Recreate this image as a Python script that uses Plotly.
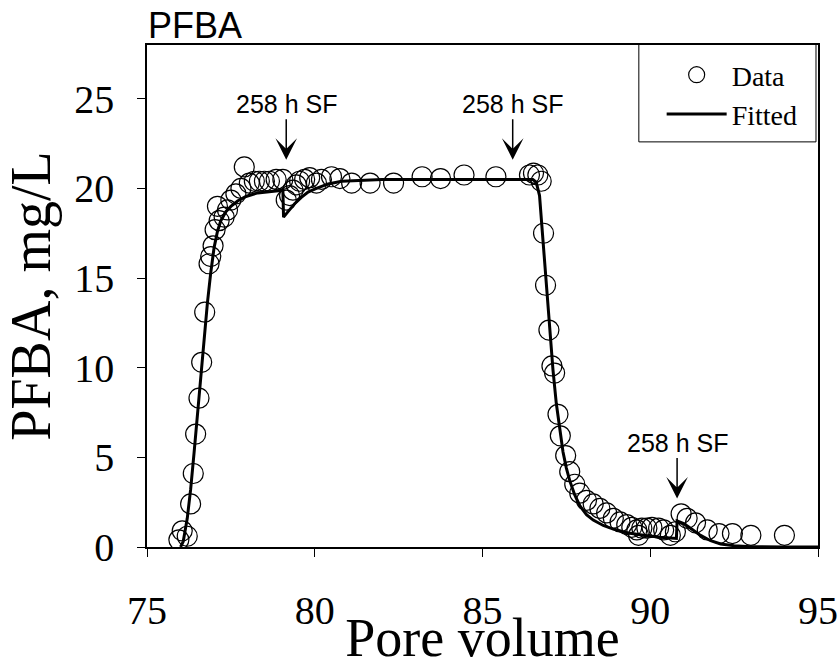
import plotly.graph_objects as go

# Observed data (pore volume, PFBA mg/L)
data_pv = [75.95, 76.05, 76.2, 76.3, 76.38, 76.45, 76.55, 76.63, 76.72, 76.85, 76.9, 76.97,
           77.03, 77.1, 77.15, 77.3, 77.4, 77.5, 77.65, 77.8, 77.9, 78.05, 78.2, 78.35,
           78.5, 78.65, 78.85, 79.05, 79.15, 79.25, 79.35, 79.45, 79.55, 79.7, 79.85,
           80.05, 80.2, 80.5, 80.75, 81.1, 81.65, 82.35, 83.2, 83.75, 84.45, 85.4,
           86.4, 86.52, 86.65, 86.75, 86.82, 86.88, 86.98, 87.07, 87.15, 87.25, 87.32,
           87.48, 87.6, 87.75, 87.9, 88.1, 88.3, 88.5, 88.7, 88.9, 89.1, 89.3, 89.45,
           89.6, 89.65, 89.75, 89.9, 90.05, 90.25, 90.4, 90.6, 90.75, 90.92, 91.1,
           91.35, 91.7, 92.05, 92.45, 93.0, 94.0]
data_conc = [0.4, 0.9, 0.6, 2.4, 4.1, 6.3, 8.3, 10.3, 13.1, 15.8, 16.2, 16.8,
             17.7, 19.0, 18.2, 18.4, 18.8, 19.35, 19.7, 20.0, 21.2, 20.3, 20.4, 20.4,
             20.4, 20.4, 20.5, 20.5, 19.35, 19.6, 19.9, 20.2, 20.4, 20.5, 20.6,
             20.3, 20.5, 20.65, 20.55, 20.3, 20.3, 20.3, 20.65, 20.55, 20.75, 20.65,
             20.75, 20.85, 20.75, 20.4, 17.5, 14.6, 12.1, 10.1, 9.7, 7.4, 6.2,
             5.1, 4.2, 3.5, 3.0, 2.6, 2.4, 2.15, 1.9, 1.6, 1.4, 1.25, 1.1,
             0.95, 0.65, 1.05, 1.05, 1.1, 1.05, 0.95, 0.65, 0.85, 1.85, 1.6,
             1.35, 0.95, 0.75, 0.75, 0.65, 0.65]

# Fitted curve
fit_pv = [76.0, 76.08, 76.2, 76.3, 76.4, 76.5, 76.6, 76.7, 76.8, 76.9, 77.0, 77.1, 77.2,
          77.35, 77.5, 77.7, 77.95, 78.3, 78.7, 79.05, 79.07, 79.2, 79.4, 79.6, 79.8,
          80.05, 80.4, 80.8, 81.3, 82.0, 86.5, 86.6, 86.7, 86.8, 86.9, 87.0, 87.1,
          87.2, 87.3, 87.4, 87.5, 87.6, 87.75, 87.9, 88.1, 88.3, 88.6, 88.9, 89.3,
          89.8, 90.3, 90.78, 90.8, 91.0, 91.2, 91.5, 91.8, 92.1, 92.5, 93.0, 94.0, 95.0]
fit_conc = [0.0, 0.3, 1.6, 3.2, 5.2, 7.3, 9.4, 11.6, 13.6, 15.3, 16.7, 17.6, 18.2,
            18.7, 19.0, 19.3, 19.55, 19.75, 19.85, 19.9, 18.4, 18.7, 19.15, 19.5, 19.8,
            20.0, 20.25, 20.4, 20.45, 20.5, 20.5, 20.35, 19.6, 17.2, 14.6, 12.1, 9.9,
            8.0, 6.5, 5.3, 4.4, 3.7, 2.9, 2.3, 1.8, 1.5, 1.2, 1.0, 0.8,
            0.65, 0.55, 0.48, 1.45, 1.3, 1.05, 0.65, 0.35, 0.17, 0.07, 0.02, 0.0, 0.0]

# Stop-flow events
sf_pv = [79.15, 85.9, 90.8]
sf_conc = [21.6, 21.6, 2.7]
sf_label = "258 h SF"

x_ticks = [75, 80, 85, 90, 95]
y_ticks = [0, 5, 10, 15, 20, 25]

SERIF = "Liberation Serif, Times New Roman"
SANS = "Liberation Sans, Arial"

fig = go.Figure()
fig.add_trace(go.Scatter(
    x=data_pv, y=data_conc, mode="markers", name="Data",
    marker=dict(symbol="circle-open", size=20, color="black", line=dict(width=1.2, color="black")),
))
fig.add_trace(go.Scatter(
    x=fit_pv, y=fit_conc, mode="lines", name="Fitted",
    line=dict(color="black", width=3),
))

for xv, yv in zip(sf_pv, sf_conc):
    fig.add_annotation(
        x=xv, y=yv, xref="x", yref="y", text=sf_label, showarrow=True,
        ax=0, ay=-56, arrowhead=3, arrowsize=2.4, arrowwidth=1.5, arrowcolor="black",
        font=dict(family=SANS, size=25, color="black"),
    )

fig.add_annotation(
    x=0, y=1, xref="paper", yref="paper", xanchor="left", yanchor="bottom",
    text="PFBA", showarrow=False, xshift=-1, yshift=-3,
    font=dict(family=SANS, size=36, color="black"),
)

# legend frame
fig.add_shape(type="rect", xref="paper", yref="paper",
              x0=0.733, x1=0.997, y0=0.807, y1=1.002,
              line=dict(color="black", width=1), fillcolor="white", layer="below")

fig.update_layout(
    width=838, height=668,
    margin=dict(l=147, r=20, t=45, b=121),
    paper_bgcolor="white", plot_bgcolor="white",
    showlegend=True,
    legend=dict(x=0.767, y=0.99, xanchor="left", yanchor="top",
                bgcolor="rgba(0,0,0,0)", borderwidth=0, itemwidth=60,
                font=dict(family=SERIF, size=28, color="black")),
    xaxis=dict(range=[75, 95], tickvals=x_ticks, showgrid=False, zeroline=False,
               showline=True, linecolor="black", linewidth=1.5, mirror=True,
               ticks="outside", ticklen=8, tickcolor="black", tickwidth=1.2,
               ticklabelstandoff=19, automargin=False, ticklabeloverflow="allow",
               tickfont=dict(family=SERIF, size=40, color="black"),
               title=dict(text="Pore volume", standoff=12,
                          font=dict(family=SERIF, size=54, color="black"))),
    yaxis=dict(range=[0, 28], tickvals=y_ticks, showgrid=False, zeroline=False,
               showline=True, linecolor="black", linewidth=1.5, mirror=True,
               ticks="outside", ticklen=8, tickcolor="black", tickwidth=1.2,
               ticklabelstandoff=15, automargin=False,
               tickfont=dict(family=SERIF, size=40, color="black"),
               title=dict(text="PFBA, mg/L", standoff=10,
                          font=dict(family=SERIF, size=56, color="black"))),
)

fig.write_html("out.html", config={"displayModeBar": False},
               post_script="document.body.style.margin='0';document.body.style.overflow='hidden';")
